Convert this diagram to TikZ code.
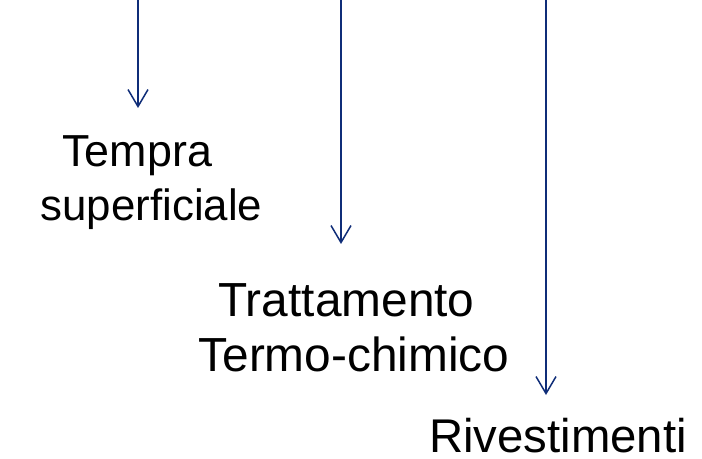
\documentclass[tikz,border=0pt]{standalone}
\usepackage{fontspec}
\setmainfont{Liberation Sans}
\usetikzlibrary{arrows.meta}
\definecolor{arrowblue}{RGB}{15,45,120}
\begin{document}
\begin{tikzpicture}[x=1bp,y=-1bp,
  lbl/.style={inner sep=0pt,anchor=base west,text=black},
  flow/.style={draw=arrowblue,line width=1.5bp,-{Straight Barb[length=17bp,width=20bp,line width=1.5bp]}}]
\useasboundingbox[fill=white] (0,0) rectangle (702,459);
% arrows
\coordinate (s1) at (138,0);   \coordinate (e1) at (138,108);
\coordinate (s2) at (341,0);   \coordinate (e2) at (341,244);
\coordinate (s3) at (546,0);   \coordinate (e3) at (546,395);
\draw[flow] (s1) -- (e1);
\draw[flow] (s2) -- (e2);
\draw[flow] (s3) -- (e3);
% labels
\node[lbl,font=\fontsize{45}{54}\selectfont] (t1a) at (62.3,166.7) {Tempra};
\node[lbl,font=\fontsize{44}{54}\selectfont] (t1b) at (40.4,221) {superficiale};
\node[lbl,font=\fontsize{48}{57}\selectfont] (t2a) at (218.3,316.7) {Trattamento};
\node[lbl,font=\fontsize{48}{57}\selectfont] (t2b) at (198.3,371.7) {Termo-chimico};
\node[lbl,font=\fontsize{47.5}{57}\selectfont] (t3) at (429,452.7) {Rivestimenti};
\end{tikzpicture}
\end{document}
